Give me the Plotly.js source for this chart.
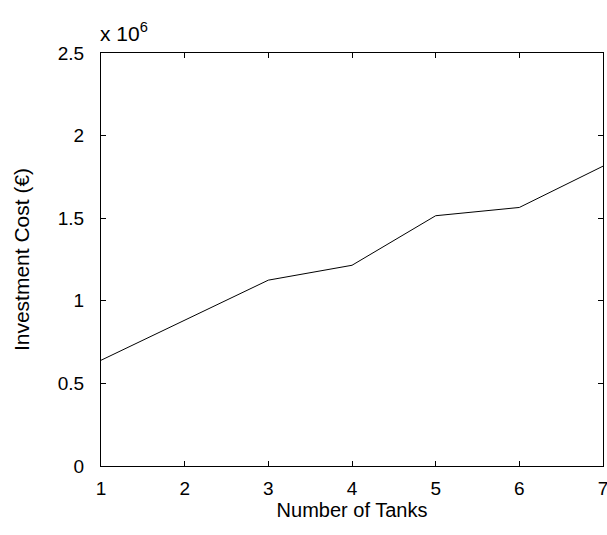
<!DOCTYPE html>
<html>
<head>
<meta charset="utf-8">
<script src="https://cdn.plot.ly/plotly-3.0.1.min.js"></script>
<style>html,body{margin:0;padding:0;background:#fff;}</style>
</head>
<body>
<div id="chart" style="width:607px;height:535px;"></div>
<script>
var tanks = [1, 2, 3, 4, 5, 6, 7];
var investmentCost = [640000, 885000, 1125000, 1215000, 1515000, 1565000, 1815000];
var yTickVals = [0, 500000, 1000000, 1500000, 2000000, 2500000];
var yTickText = ['0', '0.5', '1', '1.5', '2', '2.5'];
var xTickVals = [1, 2, 3, 4, 5, 6, 7];

var fontFam = 'Liberation Sans, Arial, sans-serif';
var trace = {
  x: tanks, y: investmentCost, type: 'scatter', mode: 'lines',
  line: {color: '#000', width: 1}, hoverinfo: 'none'
};
var axisCommon = {
  showline: true, linecolor: '#000', linewidth: 1, mirror: 'ticks',
  ticks: 'inside', ticklen: 5, tickcolor: '#000', tickwidth: 1,
  showgrid: false, zeroline: false, ticklabeloverflow: 'allow',
  tickfont: {family: fontFam, size: 19, color: '#000'}
};
var layout = {
  width: 607, height: 535,
  margin: {l: 101, r: 4, t: 53, b: 69, pad: 0},
  paper_bgcolor: '#fff', plot_bgcolor: '#fff',
  showlegend: false,
  xaxis: Object.assign({}, axisCommon, {
    range: [1, 7], tickvals: xTickVals, ticktext: xTickVals.map(String),
    ticklabelstandoff: 5,
    title: {text: 'Number of Tanks', font: {family: fontFam, size: 20, color: '#000'}, standoff: 2}
  }),
  yaxis: Object.assign({}, axisCommon, {
    range: [0, 2500000], tickvals: yTickVals, ticktext: yTickText,
    ticklabelstandoff: 12,
    title: {text: 'Investment Cost (€)', font: {family: fontFam, size: 21, color: '#000'}, standoff: 22}
  }),
  annotations: [{
    text: 'x 10<sup>6</sup>', xref: 'paper', yref: 'paper', x: 0.0, y: 1.0,
    xanchor: 'left', yanchor: 'bottom', showarrow: false, yshift: 6, xshift: -3,
    font: {family: fontFam, size: 21, color: '#000'}
  }]
};
Plotly.newPlot('chart', [trace], layout, {staticPlot: true, displayModeBar: false});
</script>
</body>
</html>
